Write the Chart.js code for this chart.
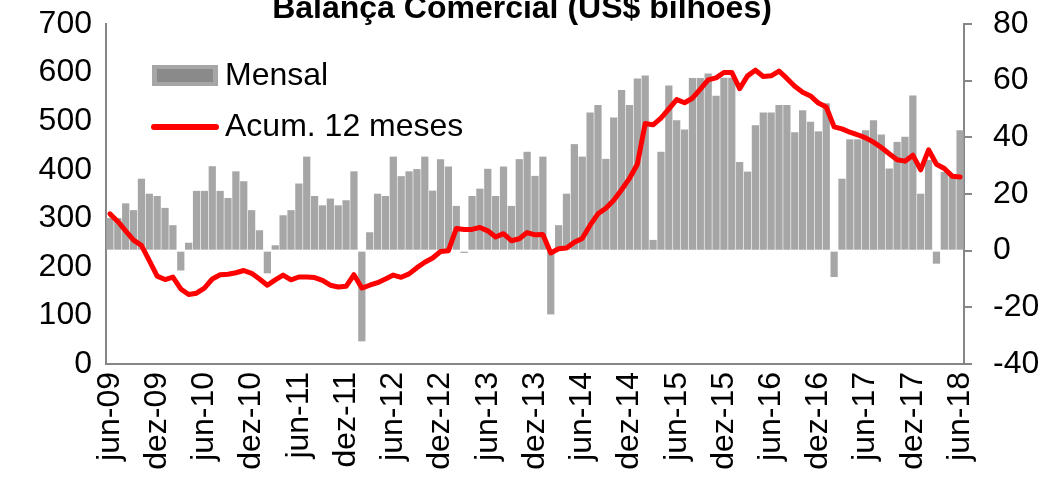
<!DOCTYPE html>
<html>
<head>
<meta charset="utf-8">
<script src="https://cdn.jsdelivr.net/npm/chart.js@4.4.0/dist/chart.umd.min.js"></script>
<style>
  body { margin: 0; background: #fff; }
  #wrap { width: 1058px; height: 479px; }
</style>
</head>
<body>
<div id="wrap"><canvas id="balancaChart" width="1058" height="479"></canvas></div>
<script>
const titulo = 'Balança Comercial (US$ bilhões)';
const meses = ['jan', 'fev', 'mar', 'abr', 'mai', 'jun', 'jul', 'ago', 'set', 'out', 'nov', 'dez'];
const mesInicial = 5;      // jun
const anoInicial = 2009;
const numMeses = 109;      // jun-09 .. jun-18

const mensal = [
  11.5, 11.5, 16.7, 14.3, 25.4, 20.1, 19.3, 15.1, 9.0, -7.0, 2.8, 21.1,
  21.1, 29.8, 21.1, 18.6, 28.0, 24.5, 14.3, 7.2, -8.0, 1.9, 12.5, 14.3,
  23.7, 33.2, 19.3, 16.0, 18.4, 16.0, 17.8, 28.0, -32.0, 6.5, 20.1, 19.3,
  33.2, 26.3, 28.0, 28.8, 33.2, 21.2, 32.3, 29.7, 15.8, -0.8, 19.3, 21.9,
  28.9, 19.3, 29.7, 15.8, 32.3, 34.9, 26.4, 33.2, -22.5, 9.0, 20.1, 37.6,
  33.2, 48.8, 51.4, 32.4, 47.0, 56.7, 51.4, 60.8, 61.8, 3.8, 34.9, 58.3,
  46.0, 42.8, 60.9, 60.9, 62.5, 54.7, 61.0, 61.0, 31.3, 27.9, 44.3, 48.8,
  48.8, 51.4, 51.4, 41.8, 49.6, 45.5, 42.1, 52.0, -9.3, 25.4, 39.3, 39.3,
  42.5, 46.0, 41.0, 29.0, 38.4, 40.2, 54.8, 20.1, 32.0, -4.6, 27.8, 26.6,
  42.5
];

// acumulado em 12 meses (linha, eixo direito)
const acum12 = [
  13.0, 10.3, 7.0, 3.7, 1.9, -3.5, -9.0, -10.2, -9.3, -13.5, -15.5, -15.0,
  -13.2, -10.0, -8.5, -8.3, -7.8, -7.0, -8.0, -10.0, -12.2, -10.3, -8.6, -10.3,
  -9.3, -9.3, -9.5, -10.5, -12.2, -12.8, -12.6, -8.5, -13.2, -12.2, -11.3, -10.0,
  -8.6, -9.4, -8.2, -6.0, -4.1, -2.6, -0.3, 0.0, 7.8, 7.5, 7.5, 8.2,
  7.0, 4.8, 6.0, 3.5, 4.2, 6.4, 5.6, 5.7, -0.8, 0.7, 0.9, 3.0,
  4.3, 9.0, 13.0, 15.0, 17.8, 21.5, 25.5, 30.5, 44.9, 44.4, 46.8, 50.0,
  53.3, 52.2, 53.8, 57.0, 60.3, 61.0, 62.9, 62.9, 57.2, 61.7, 63.7, 61.5,
  61.7, 63.4, 60.8, 58.0, 55.9, 54.6, 52.1, 50.7, 43.7, 43.0, 41.8, 40.9,
  39.8, 38.3, 36.4, 34.2, 32.1, 31.6, 33.7, 28.5, 35.6, 30.5, 29.0, 26.3,
  26.0
];

const labels = [];
for (let i = 0; i < numMeses; i++) {
  const m = (mesInicial + i) % 12;
  const a = anoInicial + Math.floor((mesInicial + i) / 12);
  labels.push(meses[m] + '-' + String(a).slice(2));
}

const fonte = "'Liberation Sans', Arial, sans-serif";
const cinzaEixo = '#868686';

const tituloPlugin = {
  id: 'tituloPlugin',
  afterDraw(chart) {
    const ctx = chart.ctx;
    ctx.save();
    ctx.fillStyle = '#000';
    ctx.font = 'bold 32px ' + fonte;
    ctx.textAlign = 'center';
    ctx.textBaseline = 'alphabetic';
    ctx.fillText(titulo, 522, 18);
    ctx.restore();
  }
};

// legenda desenhada dentro da área do gráfico
const legendaPlugin = {
  id: 'legendaPlugin',
  afterDatasetsDraw(chart) {
    const ctx = chart.ctx;
    const ds = chart.data.datasets;
    ctx.save();
    ctx.fillStyle = '#a6a6a6';
    ctx.fillRect(152, 65, 66, 21);
    ctx.fillStyle = '#8a8a8a';
    ctx.fillRect(157, 69, 56, 13);
    ctx.strokeStyle = '#ff0000';
    ctx.lineWidth = 6;
    ctx.lineCap = 'round';
    ctx.beginPath();
    ctx.moveTo(154, 127);
    ctx.lineTo(216, 127);
    ctx.stroke();
    ctx.fillStyle = '#000';
    ctx.font = '32px ' + fonte;
    ctx.textAlign = 'left';
    ctx.textBaseline = 'middle';
    ctx.fillText(ds[1].label, 225, 76);
    ctx.fillText(ds[0].label, 225, 127);
    ctx.restore();
  }
};

function semPadding(scale) {
  scale.paddingTop = 0;
  scale.paddingBottom = 0;
  scale.paddingLeft = 0;
  scale.paddingRight = 0;
}

const ctx = document.getElementById('balancaChart').getContext('2d');
new Chart(ctx, {
  data: {
    labels: labels,
    datasets: [
      {
        type: 'line',
        label: 'Acum. 12 meses',
        data: acum12,
        yAxisID: 'yR',
        borderColor: '#ff0000',
        borderWidth: 5,
        pointRadius: 0,
        tension: 0,
        borderJoinStyle: 'round',
        borderCapStyle: 'round',
        order: 0
      },
      {
        type: 'bar',
        label: 'Mensal',
        data: mensal,
        yAxisID: 'yR',
        backgroundColor: '#a6a6a6',
        borderWidth: 0,
        barPercentage: 1,
        categoryPercentage: 0.92,
        order: 1
      }
    ]
  },
  options: {
    responsive: false,
    animation: false,
    layout: { padding: { top: 24, left: 0, right: 0, bottom: 0 } },
    plugins: {
      legend: { display: false },
      title: { display: false },
      tooltip: { enabled: false }
    },
    scales: {
      x: {
        type: 'category',
        offset: true,
        grid: { display: false },
        border: { display: true, color: cinzaEixo, width: 2 },
        ticks: {
          autoSkip: false,
          minRotation: 90,
          maxRotation: 90,
          padding: 0,
          color: '#000',
          font: { family: fonte, size: 32 },
          callback: function(value, index) {
            return index % 6 === 0 ? labels[index] : '';
          }
        },
        afterFit: function(scale) { scale.height = 115; semPadding(scale); }
      },
      yL: {
        position: 'left',
        min: 0,
        max: 700,
        grid: { display: false, drawTicks: false },
        border: { display: true, color: cinzaEixo, width: 2 },
        ticks: {
          stepSize: 100,
          padding: 14,
          color: '#000',
          font: { family: fonte, size: 32 }
        },
        afterFit: function(scale) { scale.width = 106; semPadding(scale); }
      },
      yR: {
        position: 'right',
        min: -40,
        max: 80,
        grid: {
          display: true,
          drawOnChartArea: false,
          drawTicks: true,
          tickLength: 8,
          color: cinzaEixo,
          lineWidth: 2
        },
        border: { display: true, color: cinzaEixo, width: 2 },
        ticks: {
          stepSize: 20,
          padding: 21,
          color: '#000',
          font: { family: fonte, size: 32 }
        },
        afterFit: function(scale) { scale.width = 94; semPadding(scale); }
      }
    }
  },
  plugins: [tituloPlugin, legendaPlugin]
});
</script>
</body>
</html>
